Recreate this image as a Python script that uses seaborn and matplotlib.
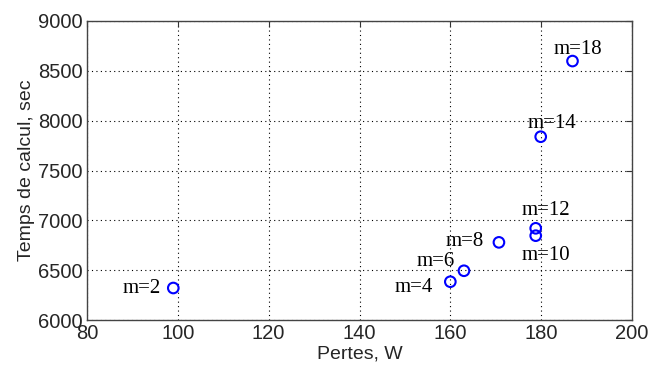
import numpy as np
import matplotlib
matplotlib.use("Agg")
import matplotlib.pyplot as plt
import seaborn as sns
import pandas as pd

# data
pertes = [99, 160, 163, 170.7, 178.8, 178.8, 179.9, 186.9]
temps = [6321, 6384, 6494, 6779, 6846, 6920, 7839, 8598]
labels = ["m=2", "m=4", "m=6", "m=8", "m=10", "m=12", "m=14", "m=18"]
# label offsets (pixels) and alignment
offsets = [(-12, 0), (-17, -6), (-9, 9), (-15, 1), (10, -20), (10, 18), (11, 13), (5, 12)]
aligns = ["right", "right", "right", "right", "center", "center", "center", "center"]

df = pd.DataFrame({"pertes": pertes, "temps": temps, "m": labels})

sns.set_style("white")
plt.rcParams["font.family"] = ["Liberation Sans", "DejaVu Sans"]

fig = plt.figure(figsize=(6.5, 3.69), dpi=100)
ax = fig.add_axes([87 / 650, 49 / 369, 545 / 650, 299 / 369])

sns.scatterplot(data=df, x="pertes", y="temps", ax=ax, marker="o", s=58,
                facecolor="none", edgecolor="#0000ff", linewidth=1.5, zorder=3)

for lab, x, y, off, ha in zip(labels, pertes, temps, offsets, aligns):
    ax.annotate(lab, (x, y), xytext=off, textcoords="offset pixels",
                ha=ha, va="center", fontsize=15, family="Liberation Serif",
                color="black")

ax.set_xlim(80, 200)
ax.set_ylim(6000, 9000)
ax.set_xticks(np.arange(80, 201, 20))
ax.set_yticks(np.arange(6000, 9001, 500))
ax.grid(True, color="black", linestyle=(0, (1, 3)), linewidth=0.8)
ax.tick_params(direction="in", length=4, top=True, right=True,
               labelsize=14.5, pad=3, color="#333333")
for sp in ax.spines.values():
    sp.set_color("#444444")
    sp.set_linewidth(1.0)
ax.set_xlabel("Pertes, W", fontsize=14, labelpad=2)
ax.set_ylabel("Temps de calcul, sec", fontsize=14, labelpad=2)

fig.savefig("out.png", dpi=100)
